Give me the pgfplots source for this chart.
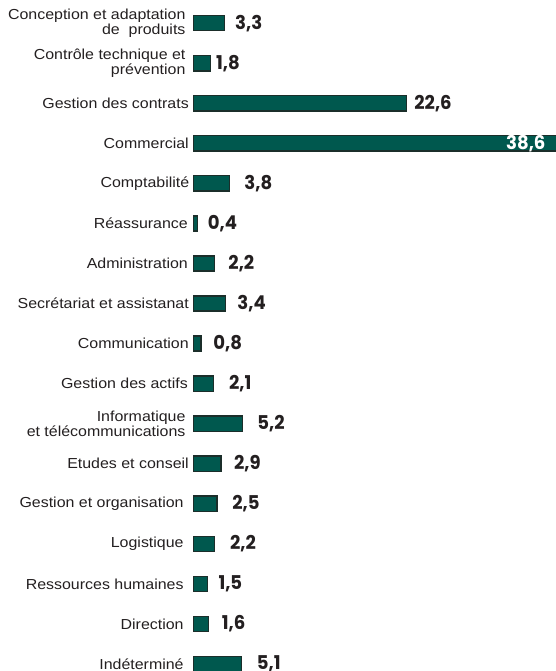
\documentclass[border=0pt]{standalone}
\usepackage{fontspec}
\usepackage{pgfplots}
\usepackage{pgfplotstable}
\pgfplotsset{compat=1.18}
\setmainfont{Liberation Sans}
\newfontfamily\catfont{Liberation Sans}[FakeStretch=1.1]
\newfontfamily\valfont{Poppins}[FakeStretch=0.95]
\definecolor{barfill}{HTML}{00584E}
\definecolor{barline}{HTML}{1B2E2A}
\definecolor{txt}{HTML}{231F20}

% bars
\pgfplotstableread{
row val
0 3.3
1 1.8
2 22.6
3 38.6
4 3.8
5 0.4
6 2.2
7 3.4
8 0.8
9 2.1
10 5.2
11 2.9
12 2.5
13 2.2
14 1.5
15 1.6
16 5.1
}\bars
% value labels: value and x position of the label
\pgfplotstableread{
row val lx
0 3.3 4.39
1 1.8 2.37
2 22.6 23.44
4 3.8 5.38
5 0.4 1.49
6 2.2 3.68
7 3.4 4.63
8 0.8 2.08
9 2.1 3.75
10 5.2 6.76
11 2.9 4.28
12 2.5 4.10
13 2.2 3.86
14 1.5 2.62
15 1.6 2.98
16 5.1 6.70
}\vals
\pgfplotstableread[col sep=semicolon]{
row;cx;name
0;-0.85;{Conception et adaptation\\de\ \ produits}
1;-0.85;{Contrôle technique et\\prévention}
2;-0.50;{Gestion des contrats}
3;-0.50;{Commercial}
4;-0.45;{Comptabilité}
5;-0.60;{Réassurance}
6;-0.60;{Administration}
7;-0.50;{Secrétariat et assistanat}
8;-0.50;{Communication}
9;-0.60;{Gestion des actifs}
10;-0.85;{Informatique\\et télécommunications}
11;-0.50;{Etudes et conseil}
12;-1.05;{Gestion et organisation}
13;-1.05;{Logistique}
14;-1.05;{Ressources humaines}
15;-1.05;{Direction}
16;-1.05;{Indéterminé}
}\cats

\pgfplotsset{
  base/.style={width=555pt, height=671pt, scale only axis, hide axis,
    clip=false, y dir=reverse, ymin=-0.579, ymax=16.175,
    at={(0,0)}, anchor=south west},
  bars/.style={xbar, bar width=15.2pt, fill=barfill, draw=barline, line width=1.4pt},
}

\begin{document}
\begin{tikzpicture}
\begin{axis}[base, xmin=-20.58, xmax=38.40]
  \addplot[bars] table[x=val, y=row]{\bars};
  % value labels
  \addplot[draw=none, nodes near coords={\pgfmathprintnumber{\pgfplotspointmeta}},
    point meta=explicit,
    /pgf/number format/.cd, fixed, fixed zerofill, precision=1, use comma, assume math mode=true,
    /pgfplots/.cd,
    every node near coord/.append style={anchor=west, inner sep=0pt,
      font=\valfont\bfseries\fontsize{19}{19}\selectfont, text=txt}]
    table[x=lx, y=row, meta=val]{\vals};
  \addplot[draw=none, nodes near coords={\pgfmathprintnumber{\pgfplotspointmeta}},
    point meta=explicit,
    /pgf/number format/.cd, fixed, fixed zerofill, precision=1, use comma, assume math mode=true,
    /pgfplots/.cd,
    every node near coord/.append style={anchor=east, inner sep=0pt,
      font=\valfont\bfseries\fontsize{19}{19}\selectfont, text=white}]
    coordinates {(37.41,3) [38.6]};
  % category labels
  \addplot[draw=none, nodes near coords, point meta=explicit symbolic,
    every node near coord/.append style={anchor=east, inner sep=0pt, align=right,
      font=\catfont\fontsize{14.5}{14.5}\selectfont, text=txt}]
    table[x=cx, y=row, meta=name]{\cats};
\end{axis}
\pgfresetboundingbox
\path (0,0) rectangle (555pt,671pt);
\end{tikzpicture}
\end{document}
